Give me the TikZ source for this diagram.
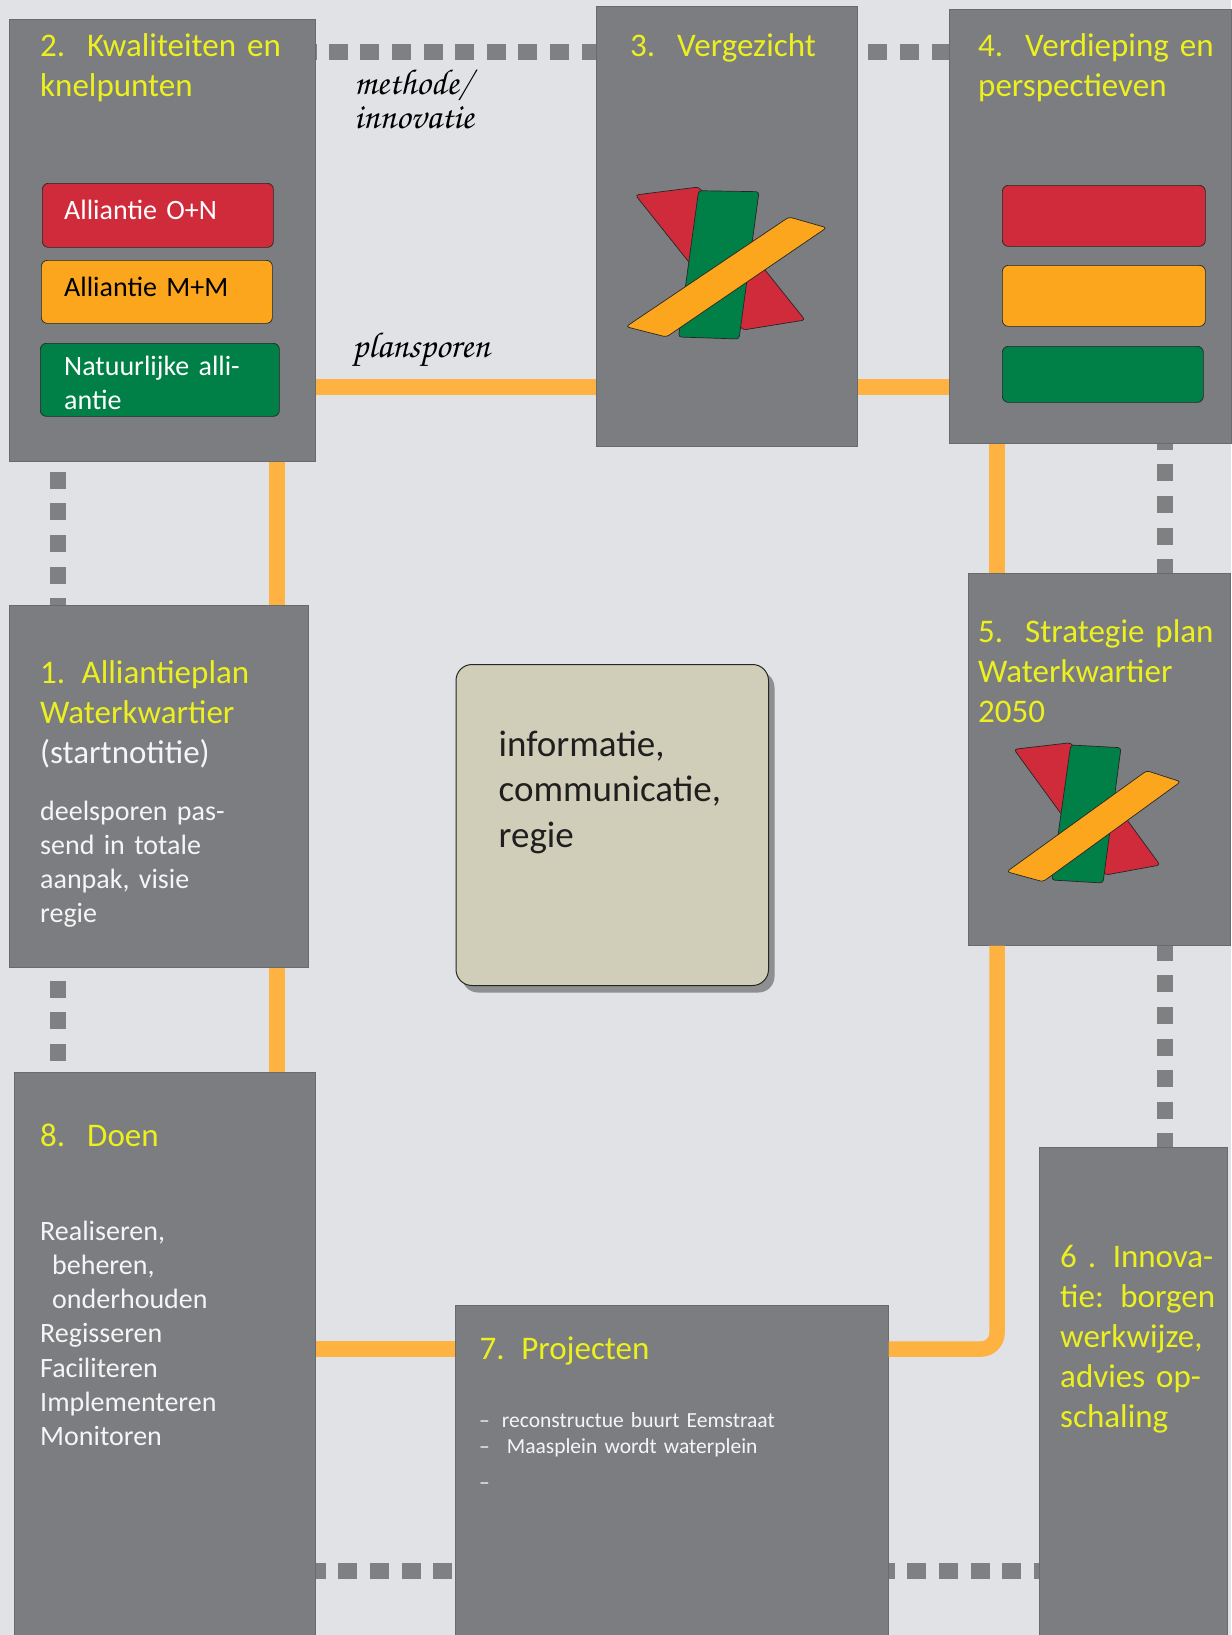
\documentclass[tikz,border=0pt]{standalone}
\usepackage{fontspec}
\setmainfont{Carlito}
\usetikzlibrary{shadows}
\definecolor{pagegrey}{RGB}{224, 226, 229}
\definecolor{panelgrey}{RGB}{123, 125, 128}
\definecolor{dotgrey}{RGB}{126, 128, 130}
\definecolor{planorange}{RGB}{253, 178, 65}
\definecolor{titleyellow}{RGB}{236, 240, 30}
\definecolor{allred}{RGB}{208, 43, 58}
\definecolor{allorange}{RGB}{252, 166, 29}
\definecolor{allgreen}{RGB}{0, 127, 70}
\definecolor{regiefill}{RGB}{208, 205, 184}
\newcommand{\scriptlabel}{\usefont{OT1}{pzc}{mb}{it}\fontsize{36}{34}\selectfont}

\begin{document}
\begin{tikzpicture}[x=1pt, y=-1pt,
  panel/.style={anchor=north west, fill=panelgrey, draw=panelgrey!85!black, line width=0.7pt, inner sep=0},
  pill/.style={anchor=north west, rounded corners=6pt, draw=black!85, line width=0.7pt, inner sep=0},
  paneltitle/.style={anchor=base west, inner sep=0, text width=290pt, align=left, text=titleyellow, font=\fontsize{33}{40}\selectfont},
  paneltext/.style={anchor=base west, inner sep=0, text width=290pt, align=left, text=white!92!panelgrey, font=\fontsize{28}{34.3}\selectfont},
  smalltext/.style={anchor=base west, inner sep=0, text width=350pt, align=left, text=white!92!panelgrey, font=\fontsize{21.5}{26}\selectfont},
  scripttext/.style={anchor=base west, inner sep=0, text width=240pt, align=left, text=black, font=\scriptlabel},
  planline/.style={line width=15.5pt, draw=planorange},
  dotline/.style={line width=15.5pt, draw=dotgrey},
  dotsacross/.style={dotline, dash pattern=on 19pt off 12.6pt},
  dotsdown/.style={dotline, dash pattern=on 17pt off 14.6pt},
  crosspart/.style={draw=black!85, line width=0.7pt, rounded corners=3pt, line join=round},
]

% Page
\fill[pagegrey] (0, 0) rectangle (1231, 1635);
\useasboundingbox (0, 0) rectangle (1231, 1635);

% ==================== Panels ====================
\node[panel, minimum width=306.5, minimum height=442] (kwaliteiten) at (8.5, 19) {};
\node[panel, minimum width=261, minimum height=440] (vergezicht) at (596, 6) {};
\node[panel, minimum width=282, minimum height=434] (verdieping) at (948.5, 9) {};
\node[panel, minimum width=262, minimum height=372] (strategie) at (968, 573) {};
\node[panel, minimum width=188, minimum height=488] (borgen) at (1039, 1147) {};
\node[panel, minimum width=433.5, minimum height=330] (projecten) at (454.5, 1305) {};
\node[panel, minimum width=301.5, minimum height=563.5] (doen) at (13.5, 1071.5) {};
\node[panel, minimum width=299, minimum height=362.5] (alliantieplan) at (8.5, 604.5) {};

% Centre block
\node[anchor=north west, minimum width=312.5, minimum height=321, rounded corners=16pt, fill=regiefill, draw=black!85, line width=1pt, inner sep=0,
  drop shadow={shadow xshift=6pt, shadow yshift=-7pt, fill=black!70, opacity=0.55}] (regie) at (455.5, 664) {};
\node[anchor=base west, inner sep=0, text width=290pt, align=left, text=black!88, font=\fontsize{37}{45.5}\selectfont] (regietext) at (498.5, 756) {informatie,\\communicatie,\\regie};

% ==================== Connectors ====================
\coordinate (planrow) at (0, 387);
\coordinate (leftcol) at (277, 0);
\coordinate (rightcol) at (997, 0);
\coordinate (projectrow) at (0, 1349);
\coordinate (toprow) at (0, 52);
\coordinate (bottomrow) at (0, 1571);
\coordinate (dotleft) at (58, 0);
\coordinate (dotright) at (1165, 0);

\draw[planline] (kwaliteiten.east |- planrow) -- (vergezicht.west |- planrow);
\draw[planline] (vergezicht.east |- planrow) -- (verdieping.west |- planrow);
\draw[planline] (kwaliteiten.south -| leftcol) -- (alliantieplan.north -| leftcol);
\draw[planline] (alliantieplan.south -| leftcol) -- (doen.north -| leftcol);
\draw[planline] (verdieping.south -| rightcol) -- (strategie.north -| rightcol);
\draw[planline, rounded corners=16pt] (strategie.south -| rightcol) -- (rightcol |- projectrow) -- (projecten.east |- projectrow);
\draw[planline] (doen.east |- projectrow) -- (projecten.west |- projectrow);

\draw[dotsacross, dash phase=18.6pt] (kwaliteiten.east |- toprow) -- (vergezicht.west |- toprow);
\draw[dotsacross, dash phase=21pt] (vergezicht.east |- toprow) -- (verdieping.west |- toprow);
\draw[dotsacross, dash phase=9pt] (doen.east |- bottomrow) -- (projecten.west |- bottomrow);
\draw[dotsacross, dash phase=13pt] (projecten.east |- bottomrow) -- (borgen.west |- bottomrow);
\draw[dotsdown, dash phase=21.6pt] (kwaliteiten.south -| dotleft) -- (alliantieplan.north -| dotleft);
\draw[dotsdown, dash phase=18.6pt] (alliantieplan.south -| dotleft) -- (doen.north -| dotleft);
\draw[dotsdown, dash phase=11pt] (verdieping.south -| dotright) -- (strategie.north -| dotright);
\draw[dotsdown, dash phase=2pt] (strategie.south -| dotright) -- (borgen.north -| dotright);

% ==================== 2. Kwaliteiten ====================
\node[paneltitle] (kwaliteitentitle) at (40, 57) {2.\ \ Kwaliteiten en\\knelpunten};
\node[pill, fill=allred, minimum width=231, minimum height=64] (redpill) at (42, 183) {};
\node[pill, fill=allorange, minimum width=231, minimum height=63] (orangepill) at (41, 260) {};
\node[pill, fill=allgreen, minimum width=239, minimum height=73] (greenpill) at (40, 343) {};
\node[paneltext, text=white] (redlabel) at (64, 219) {Alliantie O+N};
\node[paneltext, text=black] (orangelabel) at (64, 296) {Alliantie M+M};
\node[paneltext, text=white] (greenlabel) at (64, 375) {Natuurlijke alli-\\antie};

% ==================== 3. Vergezicht ====================
\node[paneltitle] (vergezichttitle) at (630, 57) {3.\ \ Vergezicht};
\draw[crosspart, fill=allred] (635.4, 195) -- (698.6, 187) -- (805, 320) -- (743, 330) -- cycle;
\draw[crosspart, fill=allgreen] (698.6, 190.7) -- (759, 191.7) -- (739, 339) -- (678.5, 337) -- cycle;
\draw[crosspart, fill=allorange] (626, 326.7) -- (789, 217) -- (826.6, 227.7) -- (666.4, 337) -- cycle;

% ==================== 4. Verdieping ====================
\node[paneltitle] (verdiepingtitle) at (978, 57) {4.\ \ Verdieping en\\perspectieven};
\node[pill, fill=allred, minimum width=203, minimum height=61] (redbar) at (1002, 185) {};
\node[pill, fill=allorange, minimum width=203, minimum height=61] (orangebar) at (1002, 265) {};
\node[pill, fill=allgreen, minimum width=201, minimum height=56] (greenbar) at (1002, 346) {};

% ==================== 5. Strategie ====================
\node[paneltitle] (strategietitle) at (978, 642) {5.\ \ Strategie plan\\Waterkwartier\\2050};
\draw[crosspart, fill=allred] (1014, 749.3) -- (1070.7, 742.7) -- (1160, 865) -- (1105.7, 875) -- cycle;
\draw[crosspart, fill=allgreen] (1070.7, 745) -- (1121, 747.7) -- (1103, 883) -- (1051.7, 880) -- cycle;
\draw[crosspart, fill=allorange] (1006.7, 871.7) -- (1146.7, 770.7) -- (1180.7, 781.7) -- (1043, 881.7) -- cycle;

% ==================== 6, 7, 8, 1 ====================
\node[paneltitle] (borgentitle) at (1060, 1267) {6 . Innova-\\tie: borgen\\werkwijze,\\advies op-\\schaling};
\node[paneltitle] (projectentitle) at (479.5, 1359) {7. Projecten};
\node[smalltext] (projectenline) at (479, 1427) {--\hspace*{12pt}reconstructue buurt Eemstraat};
\node[smalltext] (maaspleinline) at (479, 1453) {--\hspace*{17pt}Maasplein wordt waterplein};
\node[smalltext] (emptyline) at (479, 1489) {--};
\node[paneltitle] (doentitle) at (40, 1146.5) {8.\ \ Doen};
\node[paneltext] (doentext) at (40, 1240) {Realiseren,\\\hspace*{12pt}beheren,\\\hspace*{12pt}onderhouden\\Regisseren\\Faciliteren\\Implementeren\\Monitoren};
\node[paneltitle] (alliantietitle) at (40, 683) {1. Alliantieplan\\Waterkwartier\\{\color{white!92!panelgrey}(startnotitie)}};
\node[paneltext] (alliantietext) at (40, 820) {deelsporen pas-\\send in totale\\aanpak, visie\\regie};

% ==================== Track labels ====================
\node[scripttext] (methodelabel) at (354, 95) {methode/\\innovatie};
\node[scripttext] (plansporenlabel) at (352, 357) {plansporen};

\end{tikzpicture}
\end{document}
